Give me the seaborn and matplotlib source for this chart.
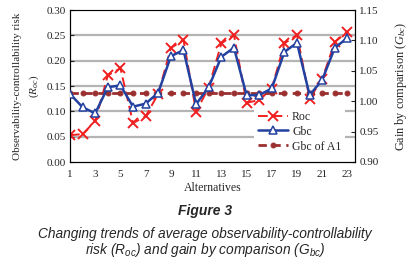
import numpy as np
import pandas as pd
import matplotlib
matplotlib.use("Agg")
import matplotlib.pyplot as plt
import seaborn as sns

# valores
alternatives = list(range(1, 24))
roc = [0.053, 0.055, 0.081, 0.171, 0.185, 0.077, 0.090, 0.135, 0.225, 0.241,
       0.099, 0.147, 0.234, 0.251, 0.117, 0.122, 0.145, 0.234, 0.251, 0.125,
       0.164, 0.237, 0.257]
gbc = [1.012, 0.990, 0.980, 1.023, 1.026, 0.991, 0.996, 1.014, 1.074, 1.084,
       0.995, 1.023, 1.073, 1.088, 1.010, 1.010, 1.021, 1.081, 1.096, 1.010,
       1.035, 1.088, 1.104]
gbc_a1 = [1.013] * 23

df = pd.DataFrame({"alt": alternatives, "Roc": roc, "Gbc": gbc, "A1": gbc_a1})

sns.set_style("white")
plt.rcParams["font.family"] = ["Liberation Serif", "DejaVu Serif"]
plt.rcParams["mathtext.fontset"] = "custom"
plt.rcParams["mathtext.rm"] = "Liberation Serif"
plt.rcParams["mathtext.it"] = "Liberation Serif:italic"
plt.rcParams["mathtext.sf"] = "Liberation Sans:italic"

fig = plt.figure(figsize=(4.1, 2.61), dpi=100)
ax = fig.add_axes([70 / 410, 1 - 162 / 261, 285 / 410, 152 / 261])
ax2 = ax.twinx()

# -- grade --
for v in [0.05, 0.10, 0.15, 0.20, 0.25]:
    ax.axhline(v, color="#b4b4b4", lw=1.6, zorder=0)

sns.lineplot(data=df, x="alt", y="Roc", ax=ax, color="#f02020", lw=1.4,
             dashes=False, marker="x", markersize=6.5, markeredgewidth=1.4,
             markeredgecolor="#f02020", label="Roc", legend=False)
ax.lines[-1].set_dashes([5, 2.5])

sns.lineplot(data=df, x="alt", y="A1", ax=ax2, color="#9b2f2f", lw=2,
             marker="o", markersize=3.5, markeredgecolor="#9b2f2f",
             label="Gbc of A1", legend=False, zorder=3)
ax2.lines[-1].set_dashes([3, 2])
sns.lineplot(data=df, x="alt", y="Gbc", ax=ax2, color="#2341a0", lw=1.8,
             marker="^", markersize=6, markerfacecolor="white",
             markeredgecolor="#2341a0", markeredgewidth=1.1,
             label="Gbc", legend=False, zorder=4)

ax.set_xlim(1, 23.6)
ax.set_ylim(0, 0.30)
ax2.set_ylim(0.90, 1.15)
ax.set_yticks(np.arange(0, 0.31, 0.05))
ax2.set_yticks(np.arange(0.90, 1.151, 0.05))
ax.set_yticklabels([f"{v:.2f}" for v in np.arange(0, 0.31, 0.05)])
ax2.set_yticklabels([f"{v:.2f}" for v in np.arange(0.90, 1.151, 0.05)])
ax.set_xticks(alternatives)
ax.set_xticklabels([str(a) if a % 2 == 1 else "" for a in alternatives])

for a in (ax, ax2):
    a.tick_params(labelsize=8, length=3, width=0.8, direction="in", pad=3)
    for s in a.spines.values():
        s.set_color("black")
        s.set_linewidth(0.8)
ax.spines["top"].set_color("#808080")
ax.tick_params(axis="x", direction="inout", length=4, pad=4)

ax.set_xlabel("Alternatives", fontsize=8.5, labelpad=2)
ax.set_ylabel("Observability-controllability risk\n$(R_{oc})$", fontsize=8,
              labelpad=4, linespacing=1.6)
ax2.set_ylabel("Gain by comparison $(G_{bc})$", fontsize=8.8, labelpad=10)

h1, l1 = ax.get_legend_handles_labels()
h2, l2 = ax2.get_legend_handles_labels()
hd = dict(zip(l1 + l2, h1 + h2))
order = ["Roc", "Gbc", "Gbc of A1"]
leg = ax2.legend([hd[k] for k in order], order, loc="lower right",
                 bbox_to_anchor=(0.985, 0.0), fontsize=8.5, frameon=True,
                 framealpha=1, edgecolor="white", handlelength=2.6,
                 borderpad=0.3, labelspacing=0.25, handletextpad=0.3)
leg.get_frame().set_linewidth(0)

# -- legenda da figura --
fig.text(0.5, 1 - 211 / 261, "Figure 3", ha="center", va="center",
         fontsize=10, fontweight="bold", style="italic", family="Liberation Sans")
fig.text(0.5, 1 - 234 / 261,
         "Changing trends of average observability-controllability",
         ha="center", va="center", fontsize=9.9, style="italic",
         family="Liberation Sans")
fig.text(0.5, 1 - 250 / 261,
         r"risk ($\mathsf{R_{oc}}$) and gain by comparison ($\mathsf{G_{bc}}$)",
         ha="center", va="center", fontsize=9.9, style="italic",
         family="Liberation Sans")

fig.savefig("out.png", dpi=100)
